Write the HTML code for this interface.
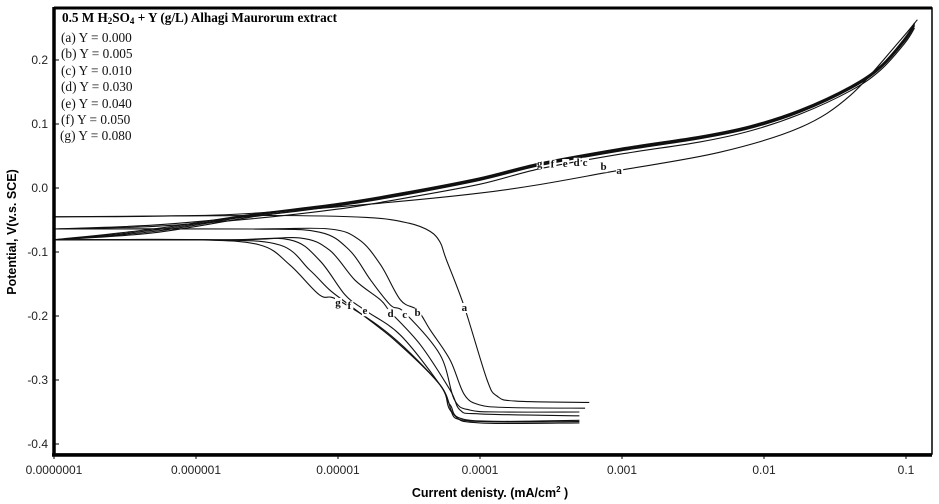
<!DOCTYPE html>
<html><head><meta charset="utf-8"><style>
body{margin:0;background:#fff;width:939px;height:504px;overflow:hidden}
svg{display:block}
.tk{font-family:"Liberation Sans",sans-serif;font-size:12px;fill:#222}
.lg{font-family:"Liberation Serif",serif;font-size:13.3px;fill:#111}
.lb{font-family:"Liberation Serif",serif;font-size:11px;font-weight:bold;fill:#111}
</style></head><body>
<svg id="chart" width="939" height="504">
<g id="curves"></g>
<g id="labels"></g>
<rect x="54" y="8" width="878" height="446" fill="none" stroke="#000" stroke-width="1.5"/>
<line x1="54" y1="7" x2="54" y2="456" stroke="#000" stroke-width="3.5"/>
<line x1="52" y1="455" x2="932" y2="455" stroke="#000" stroke-width="3.5"/>
<line x1="54" y1="8" x2="932" y2="8" stroke="#000" stroke-width="3"/>
<g id="axes"></g>
<text x="62" y="22" font-family="Liberation Serif,serif" font-size="13.2" font-weight="bold">0.5 M H<tspan font-size="9" dy="2">2</tspan><tspan dy="-2">SO</tspan><tspan font-size="9" dy="2">4</tspan><tspan dy="-2"> + Y (g/L)  Alhagi Maurorum extract</tspan></text>
<g>
<text class="lg" x="61" y="42">(a) Y =  0.000</text>
<text class="lg" x="61" y="58">(b) Y =  0.005</text>
<text class="lg" x="61" y="75">(c) Y =  0.010</text>
<text class="lg" x="61" y="91">(d) Y =  0.030</text>
<text class="lg" x="61" y="108">(e) Y =  0.040</text>
<text class="lg" x="61" y="124">(f)  Y =  0.050</text>
<text class="lg" x="60" y="140">(g) Y =  0.080</text>
</g>
<text x="490" y="497" text-anchor="middle" font-family="Liberation Sans,sans-serif" font-size="12.5" font-weight="bold">Current denisty. (mA/cm<tspan font-size="8" dy="-5">2</tspan><tspan dy="5"> )</tspan></text>
<text transform="translate(16,232) rotate(-90)" text-anchor="middle" font-family="Liberation Sans,sans-serif" font-size="12.5" font-weight="bold">Potential, V(v.s. SCE)</text>
</svg>
<script>
const seriesNames=['a','b','c','d','e','f','g'];
const xTickExp=[-7,-6,-5,-4,-3,-2,-1];
const xTickLabels=['0.0000001','0.000001','0.00001','0.0001','0.001','0.01','0.1'];
const yTicks=[0.2,0.1,0.0,-0.1,-0.2,-0.3,-0.4];
const yTickLabels=['0.2','0.1','0.0','-0.1','-0.2','-0.3','-0.4'];
const cathI={
a:[-7,-5.5,-4.8,-4.5,-4.35,-4.28,-4.24,-4.11,-3.95,-3.88,-3.75,-3.23],
b:[-7,-5.6,-5.06,-4.85,-4.70,-4.56,-4.44,-4.35,-4.21,-4.11,-4.00,-3.80,-3.26],
c:[-7,-5.6,-5.13,-4.92,-4.77,-4.63,-4.53,-4.28,-4.18,-4.07,-3.85,-3.30],
d:[-7,-5.7,-5.27,-5.06,-4.88,-4.70,-4.63,-4.42,-4.21,-4.14,-4.0,-3.30],
e:[-7,-5.8,-5.34,-5.13,-4.95,-4.81,-4.56,-4.28,-4.21,-4.07,-3.30],
f:[-7,-5.9,-5.41,-5.20,-5.06,-4.92,-4.60,-4.28,-4.21,-4.07,-3.30],
g:[-7,-6.0,-5.55,-5.34,-5.13,-5.00,-4.63,-4.28,-4.18,-4.0,-3.30]};
const cathE={
a:[-.045,-.043,-.046,-.055,-.068,-.085,-.11,-.186,-.30,-.325,-.333,-.335],
b:[-.064,-.064,-.064,-.081,-.12,-.175,-.191,-.222,-.269,-.323,-.339,-.343,-.344],
c:[-.064,-.064,-.069,-.097,-.144,-.183,-.195,-.261,-.331,-.347,-.350,-.350],
d:[-.081,-.081,-.078,-.097,-.144,-.175,-.194,-.245,-.316,-.347,-.353,-.356],
e:[-.081,-.081,-.081,-.113,-.167,-.191,-.230,-.308,-.339,-.363,-.363],
f:[-.081,-.081,-.089,-.128,-.159,-.183,-.238,-.308,-.347,-.364,-.365],
g:[-.081,-.081,-.089,-.120,-.167,-.175,-.230,-.308,-.355,-.367,-.367]};
const anodAI=[-7,-6.3,-5.5,-4.0,-3.01,-2.31,-1.75,-1.39,-1.04,-0.92];
const anodAE=[-.045,-.044,-.038,-.008,.028,.056,.094,.145,.231,.263];
const anodI=[-7,-6.3,-5.6,-5.0,-4.56,-4.0,-3.58,-3.01,-2.45,-2.10,-1.75,-1.39,-1.18,-1.01,-0.94];
const anodE={
b:[-.064,-.060,-.048,-.033,-.017,.006,.030,.053,.072,.089,.115,.152,.184,.226,.250],
c:[-.064,-.058,-.044,-.028,-.012,.012,.035,.058,.077,.093,.118,.155,.187,.229,.253],
d:[-.081,-.070,-.045,-.027,-.011,.013,.036,.059,.078,.094,.119,.156,.188,.231,.255],
e:[-.081,-.068,-.043,-.026,-.010,.014,.037,.060,.079,.095,.120,.157,.189,.232,.256],
f:[-.081,-.066,-.042,-.025,-.009,.015,.038,.061,.080,.096,.121,.158,.190,.233,.257],
g:[-.081,-.064,-.041,-.024,-.008,.016,.039,.062,.081,.097,.122,.159,.191,.234,.258]};
const cathLabI=[-4.11,-4.44,-4.53,-4.63,-4.81,-4.92,-5.0];
const cathLabE=[-.186,-.194,-.197,-.195,-.191,-.183,-.178];
const anodLabI=[-3.02,-3.13,-3.26,-3.32,-3.40,-3.49,-3.58];
const anodLabE=[.028,.034,.041,.041,.039,.038,.039];

const NS='http://www.w3.org/2000/svg';
function xs(l){return 54+(l+7)*142;}
function ys(e){return 188-e*640;}
const cg=document.getElementById('curves'),lg=document.getElementById('labels'),ag=document.getElementById('axes');
function smooth(pts){
  let d='M'+pts[0][0].toFixed(1)+','+pts[0][1].toFixed(1);
  for(let i=0;i<pts.length-1;i++){
    const p0=pts[Math.max(0,i-1)],p1=pts[i],p2=pts[i+1],p3=pts[Math.min(pts.length-1,i+2)];
    const c1x=p1[0]+(p2[0]-p0[0])/6,c1y=p1[1]+(p2[1]-p0[1])/6;
    const c2x=p2[0]-(p3[0]-p1[0])/6,c2y=p2[1]-(p3[1]-p1[1])/6;
    d+='C'+c1x.toFixed(1)+','+c1y.toFixed(1)+' '+c2x.toFixed(1)+','+c2y.toFixed(1)+' '+p2[0].toFixed(1)+','+p2[1].toFixed(1);
  }
  return d;
}
function line(I,E,name){
  const p=document.createElementNS(NS,'path');
  p.setAttribute('d',smooth(I.map((l,i)=>[xs(l),ys(E[i])])));
  p.setAttribute('fill','none');p.setAttribute('stroke','#111');p.setAttribute('stroke-width','1.1');
  
  
  cg.appendChild(p);
}
seriesNames.forEach(s=>{
  line(cathI[s],cathE[s],'cathodic-curve-'+s);
  if(s==='a') line(anodAI,anodAE,'anodic-curve-a'); else line(anodI,anodE[s],'anodic-curve-'+s);
});
function lab(x,y,t,name){
  const b=document.createElementNS(NS,'rect');
  b.setAttribute('x',x-3);b.setAttribute('y',y-8);b.setAttribute('width',7);b.setAttribute('height',10);b.setAttribute('fill','#fff');
  
  
  lg.appendChild(b);
  const tx=document.createElementNS(NS,'text');
  tx.setAttribute('x',x);tx.setAttribute('y',y);tx.setAttribute('text-anchor','middle');tx.setAttribute('class','lb');tx.textContent=t;
  
  
  lg.appendChild(tx);
}
seriesNames.forEach((s,i)=>{
  lab(xs(cathLabI[i]),ys(cathLabE[i])+4,s,'cathodic-label-'+s);
  lab(xs(anodLabI[i]),ys(anodLabE[i])+4,s,'anodic-label-'+s);
});
xTickExp.forEach((e,i)=>{
  const t=document.createElementNS(NS,'text');
  t.setAttribute('x',xs(e));t.setAttribute('y',474);t.setAttribute('text-anchor','middle');t.setAttribute('class','tk');t.textContent=xTickLabels[i];
  
  
  ag.appendChild(t);
  const l=document.createElementNS(NS,'line');
  l.setAttribute('x1',xs(e));l.setAttribute('x2',xs(e));l.setAttribute('y1',455);l.setAttribute('y2',459);l.setAttribute('stroke','#000');
  
  
  ag.appendChild(l);
});
yTicks.forEach((v,i)=>{
  const t=document.createElementNS(NS,'text');
  t.setAttribute('x',48);t.setAttribute('y',ys(v)+4);t.setAttribute('text-anchor','end');t.setAttribute('class','tk');t.textContent=yTickLabels[i];
  
  
  ag.appendChild(t);
  const l=document.createElementNS(NS,'line');
  l.setAttribute('x1',54);l.setAttribute('x2',59);l.setAttribute('y1',ys(v));l.setAttribute('y2',ys(v));l.setAttribute('stroke','#000');
  
  
  ag.appendChild(l);
});
</script>
</body></html>
